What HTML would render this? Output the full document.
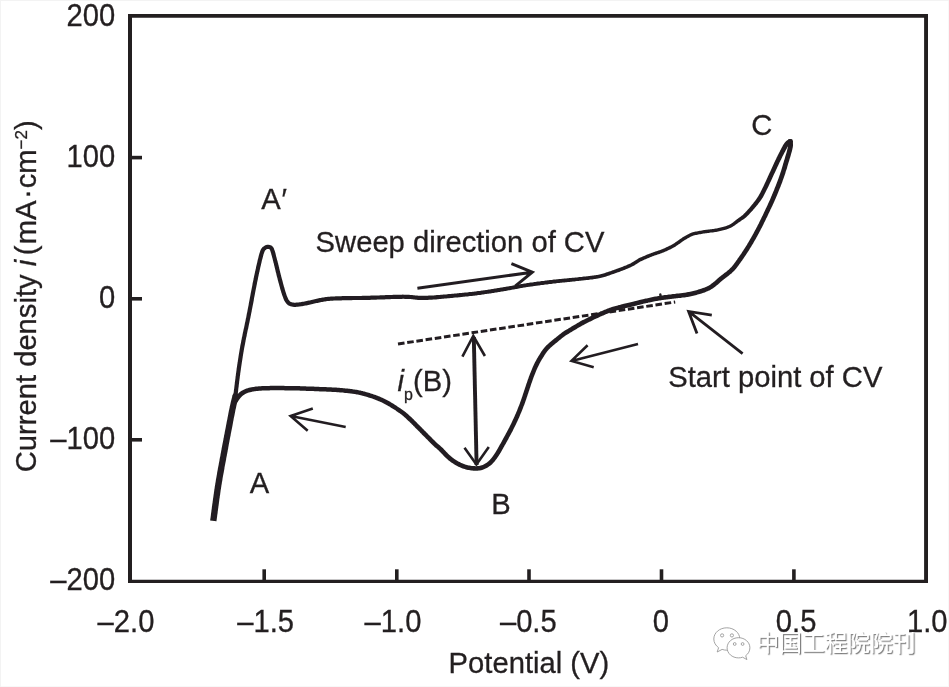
<!DOCTYPE html>
<html lang="en">
<head>
<meta charset="utf-8">
<title>Cyclic voltammogram</title>
<style>
html,body{margin:0;padding:0;background:#fff;}
body{width:949px;height:687px;overflow:hidden;}
svg{display:block;}
text{font-family:"Liberation Sans","Noto Sans CJK SC",sans-serif;font-size:29.2px;fill:#231f20;stroke:#231f20;stroke-width:0.3px;}
.it{font-family:"Liberation Sans",sans-serif;font-style:italic;}
.wm{font-family:"Liberation Sans","Noto Sans CJK SC",sans-serif;font-size:22.7px;stroke:none;}
</style>
</head>
<body>
<svg width="949" height="687" viewBox="0 0 949 687">
<rect x="0" y="0" width="949" height="687" fill="#f8f8f8"/>
<path d="M0 0H949V1H1V687H0Z" fill="#f3f3f3"/>
<rect x="1" y="1" width="947" height="685" fill="#ffffff"/>

<!-- frame -->
<path fill="#231f20" fill-rule="evenodd" d="M128 14.1H928V583H128Z M132 17.7V579.8H924.1V17.7Z"/>
<g fill="none" stroke="#231f20" stroke-width="3.6"><path d="M264.2 581 V569.3"/><path d="M396.8 581 V569.3"/><path d="M529.0 581 V569.3"/><path d="M661.5 581 V569.3"/><path d="M793.9 581 V569.3"/><path d="M130 157.6 H142"/><path d="M130 298.8 H142"/><path d="M130 439.8 H142"/></g>

<!-- y tick labels -->
<text transform="translate(115.3 25.7) scale(1 1.045)" text-anchor="end">200</text>
<text transform="translate(115.3 167.1) scale(1 1.045)" text-anchor="end">100</text>
<text transform="translate(115.3 307.5) scale(1 1.045)" text-anchor="end">0</text>
<text transform="translate(115.3 448.7) scale(1 1.045)" text-anchor="end">–100</text>
<text transform="translate(115.3 589.9) scale(1 1.045)" text-anchor="end">–200</text>
<!-- x tick labels -->
<text transform="translate(97.6 632.0) scale(1 1.045)">–2.0</text>
<text transform="translate(237.2 632.0) scale(1 1.045)">–1.5</text>
<text transform="translate(364.6 632.0) scale(1 1.045)">–1.0</text>
<text transform="translate(499.9 632.0) scale(1 1.045)">–0.5</text>
<text transform="translate(652.8 632.0) scale(1 1.045)">0</text>
<text transform="translate(775.8 632.0) scale(1 1.045)">0.5</text>
<text transform="translate(907 632.0) scale(1 1.045)">1.0</text>
<text transform="translate(448.6 672.8) scale(1 1.02)">Potential (V)</text>
<text transform="translate(36.3 472.3) rotate(-90) scale(1 1.02)">Current density <tspan class="it">i</tspan> <tspan dx="-3.5">(</tspan><tspan dx="1.2">m</tspan>A<tspan dx="1.5">·</tspan><tspan dx="0.8">c</tspan>m<tspan font-size="17" dy="-9.5">−2</tspan><tspan dy="9.5">)</tspan></text>

<!-- annotations -->
<text transform="translate(261.2 209.4) scale(1 1.02)">A<tspan dx="0.9">′</tspan></text>
<text transform="translate(249.8 493) scale(1 1.02)">A</text>
<text transform="translate(491.3 514) scale(1 1.02)">B</text>
<text transform="translate(751.3 135.2) scale(1 1.02)">C</text>
<text transform="translate(315.6 251.7) scale(1 1.02)">Sweep direction of CV</text>
<text transform="translate(668.2 386.8) scale(1 1.02)">Start point of CV</text>
<text transform="translate(397.6 390.8) scale(1 1.02)"><tspan class="it">i</tspan><tspan font-size="16" dy="8.6">p</tspan><tspan dy="-8.6">(B)</tspan></text>

<defs><filter id="soft" x="-5%" y="-5%" width="110%" height="110%"><feGaussianBlur stdDeviation="0.4"/></filter></defs>
<g filter="url(#soft)">
<!-- dashed baseline -->
<path d="M398 344 L675.2 302" fill="none" stroke="#231f20" stroke-width="3" stroke-dasharray="6.6 2.7"/>

<!-- CV curve -->
<g fill="#231f20" stroke="none">
<path d="M236.7 401.3 L236.8 400.8 L236.8 400.2 L237.0 399.5 L237.1 398.6 L237.3 397.5 L237.5 396.0 L237.7 394.3 L237.8 393.5 L237.9 392.8 L238.0 391.9 L238.1 391.0 L238.2 390.1 L238.3 389.1 L238.4 388.0 L238.6 387.0 L238.7 385.9 L238.8 384.8 L239.0 383.7 L239.1 382.5 L239.2 381.4 L239.4 380.3 L239.5 379.2 L239.7 378.1 L239.8 377.0 L239.9 376.0 L240.1 375.0 L240.2 374.1 L240.3 373.0 L240.5 371.9 L240.6 370.9 L240.8 369.9 L240.9 368.9 L241.0 367.9 L241.2 366.9 L241.3 365.9 L241.5 364.9 L241.6 363.9 L241.8 363.0 L241.9 362.0 L242.1 361.1 L242.2 360.1 L242.4 359.2 L242.5 358.2 L242.7 357.2 L242.8 356.2 L243.0 355.3 L243.1 354.3 L243.3 353.4 L243.4 352.6 L243.6 351.7 L243.7 350.8 L243.9 349.9 L244.0 349.0 L244.2 348.1 L244.4 347.1 L244.6 346.1 L244.8 345.0 L245.0 343.9 L245.2 342.7 L245.5 341.4 L245.6 340.6 L245.8 339.8 L245.9 339.0 L246.1 338.1 L246.3 337.3 L246.5 336.4 L246.7 335.5 L246.8 334.6 L247.0 333.7 L247.2 332.7 L247.4 331.8 L247.6 330.8 L247.8 329.8 L248.1 328.9 L248.3 327.8 L248.5 326.8 L248.7 325.8 L248.9 324.7 L249.1 323.7 L249.4 322.6 L249.6 321.5 L249.8 320.4 L250.0 319.3 L250.3 318.2 L250.5 317.1 L250.7 316.0 L251.0 314.8 L251.1 313.9 L251.3 313.0 L251.5 312.1 L251.7 311.2 L251.8 310.2 L252.0 309.3 L252.2 308.3 L252.4 307.3 L252.6 306.3 L252.8 305.3 L253.0 304.3 L253.2 303.3 L253.4 302.2 L253.6 301.2 L253.8 300.2 L253.9 299.1 L254.1 298.1 L254.3 297.0 L254.5 296.0 L254.7 294.9 L254.9 293.9 L255.1 292.8 L255.3 291.8 L255.5 290.8 L255.7 289.8 L255.9 288.8 L256.1 287.8 L256.3 286.8 L256.5 285.8 L256.7 284.8 L256.9 283.9 L257.0 283.0 L257.2 282.0 L257.4 281.2 L257.6 280.3 L257.8 279.4 L258.0 278.3 L258.2 277.1 L258.5 275.9 L258.7 274.8 L259.0 273.6 L259.2 272.5 L259.5 271.4 L259.7 270.3 L260.0 269.1 L260.2 268.1 L260.4 267.0 L260.7 265.9 L260.9 264.9 L261.1 263.9 L261.4 262.9 L261.6 262.0 L261.8 261.0 L262.0 260.1 L262.3 259.3 L262.5 258.4 L262.7 257.6 L262.9 256.9 L263.1 256.1 L263.3 255.4 L263.4 254.8 L263.6 254.2 L264.3 252.2 L264.8 251.0 L265.1 250.5 L265.3 250.3 L265.8 250.0 L266.2 249.6 L267.0 249.0 L267.5 248.9 L268.3 249.0 L269.1 249.0 L269.2 249.0 L270.0 250.0 L270.0 250.2 L270.3 250.8 L270.5 251.6 L270.8 252.4 L271.1 253.3 L271.3 254.2 L271.6 255.2 L271.9 256.3 L272.2 257.4 L272.5 258.6 L272.8 259.7 L273.1 260.9 L273.3 261.8 L273.5 262.7 L273.8 263.6 L274.0 264.6 L274.2 265.5 L274.5 266.5 L274.7 267.6 L275.0 268.6 L275.2 269.6 L275.5 270.7 L275.7 271.8 L276.0 272.8 L276.3 273.8 L276.5 274.9 L276.8 275.9 L277.0 276.9 L277.3 277.8 L277.6 278.9 L277.8 280.0 L278.1 281.1 L278.4 282.2 L278.7 283.3 L279.0 284.3 L279.3 285.4 L279.6 286.5 L279.9 287.5 L280.1 288.5 L280.4 289.5 L280.7 290.4 L281.0 291.3 L281.2 292.2 L281.5 293.0 L281.9 294.3 L282.3 295.5 L282.7 296.6 L283.1 297.6 L283.4 298.6 L283.8 299.5 L284.2 300.4 L284.7 301.2 L285.2 302.1 L286.0 303.3 L287.0 304.3 L288.0 305.2 L289.2 305.8 L290.4 306.3 L291.6 306.6 L292.8 306.8 L294.1 306.9 L295.4 306.9 L296.7 306.8 L298.1 306.7 L299.0 306.6 L300.0 306.5 L301.0 306.3 L302.0 306.2 L303.1 306.0 L304.2 305.8 L305.3 305.6 L306.3 305.4 L307.4 305.2 L308.4 305.0 L309.4 304.7 L310.5 304.5 L311.5 304.3 L312.5 304.0 L313.5 303.8 L314.5 303.5 L315.5 303.3 L316.5 303.1 L317.5 302.9 L318.5 302.7 L319.5 302.5 L320.5 302.3 L321.4 302.1 L322.3 301.9 L323.3 301.7 L324.2 301.6 L325.2 301.4 L326.2 301.2 L327.3 301.1 L328.5 301.0 L329.3 300.9 L330.2 300.8 L331.1 300.8 L332.0 300.7 L332.9 300.7 L333.8 300.6 L334.8 300.6 L335.8 300.5 L336.8 300.5 L337.9 300.5 L339.0 300.4 L340.1 300.4 L341.2 300.4 L342.4 300.3 L343.6 300.3 L344.5 300.3 L345.4 300.3 L346.4 300.2 L347.4 300.2 L348.4 300.2 L349.5 300.2 L350.6 300.2 L351.7 300.2 L352.8 300.1 L353.9 300.1 L355.0 300.1 L356.1 300.1 L357.2 300.1 L358.3 300.1 L359.3 300.1 L360.4 300.1 L361.5 300.1 L362.5 300.0 L363.5 300.0 L364.4 300.0 L365.6 300.0 L366.8 299.9 L367.9 299.9 L369.0 299.9 L370.0 299.9 L371.1 299.8 L372.1 299.8 L373.2 299.8 L374.2 299.7 L375.2 299.7 L376.2 299.7 L377.2 299.6 L378.3 299.6 L379.3 299.6 L380.3 299.5 L381.4 299.5 L382.4 299.5 L383.5 299.4 L384.6 299.4 L385.7 299.3 L386.8 299.3 L388.0 299.2 L389.1 299.2 L390.2 299.2 L391.2 299.1 L392.3 299.1 L393.4 299.0 L394.4 299.0 L395.4 299.0 L396.3 298.9 L397.3 298.9 L398.1 298.9 L399.5 298.9 L400.7 298.9 L401.8 298.9 L402.9 298.8 L403.9 298.8 L404.9 298.9 L405.8 298.9 L406.8 298.9 L407.8 298.9 L408.9 299.0 L409.8 299.1 L410.8 299.1 L411.8 299.2 L412.8 299.3 L413.8 299.5 L414.8 299.6 L415.8 299.7 L416.8 299.8 L417.9 299.9 L418.9 300.0 L420.0 300.0 L421.1 300.0 L422.3 300.0 L423.4 300.0 L424.5 300.0 L425.7 300.0 L426.8 299.9 L427.9 299.9 L429.0 299.8 L430.1 299.8 L431.1 299.7 L432.0 299.7 L433.2 299.6 L434.3 299.5 L435.3 299.4 L436.2 299.4 L437.2 299.3 L438.1 299.2 L439.1 299.0 L440.2 298.9 L441.1 298.9 L441.9 298.8 L442.7 298.7 L443.5 298.7 L444.4 298.6 L445.3 298.5 L446.4 298.4 L447.7 298.3 L449.1 298.2 L450.8 298.0 L451.5 297.9 L452.3 297.9 L453.2 297.8 L454.0 297.7 L454.9 297.6 L455.9 297.5 L456.8 297.4 L457.8 297.4 L458.8 297.3 L459.9 297.2 L461.0 297.1 L462.0 296.9 L463.1 296.8 L464.2 296.7 L465.3 296.6 L466.5 296.5 L467.6 296.4 L468.7 296.3 L469.8 296.1 L470.9 296.0 L472.0 295.9 L473.1 295.8 L474.2 295.7 L475.2 295.5 L476.3 295.4 L477.3 295.3 L478.3 295.1 L479.3 295.0 L480.3 294.9 L481.3 294.7 L482.4 294.6 L483.4 294.4 L484.4 294.3 L485.4 294.1 L486.4 294.0 L487.4 293.8 L488.5 293.7 L489.5 293.5 L490.5 293.4 L491.5 293.2 L492.5 293.0 L493.5 292.9 L494.5 292.7 L495.5 292.5 L496.6 292.4 L497.6 292.2 L498.6 292.1 L499.6 291.9 L500.6 291.7 L501.6 291.6 L502.6 291.4 L503.7 291.2 L504.7 291.1 L505.7 290.9 L506.7 290.7 L507.7 290.5 L508.7 290.3 L509.7 290.2 L510.8 290.0 L511.8 289.8 L512.8 289.6 L513.8 289.4 L514.8 289.2 L515.8 289.0 L516.8 288.9 L517.8 288.7 L518.8 288.5 L519.9 288.3 L520.9 288.1 L521.9 288.0 L522.9 287.8 L523.9 287.6 L524.9 287.5 L525.9 287.3 L526.9 287.1 L527.9 287.0 L528.9 286.8 L529.9 286.7 L530.9 286.5 L532.0 286.4 L533.0 286.2 L534.0 286.1 L535.0 286.0 L536.0 285.8 L537.0 285.7 L538.0 285.5 L539.1 285.4 L540.1 285.3 L541.1 285.1 L542.1 285.0 L543.1 284.9 L544.1 284.7 L545.1 284.6 L546.2 284.5 L547.2 284.4 L548.2 284.2 L549.2 284.1 L550.2 284.0 L551.2 283.9 L552.2 283.7 L553.2 283.6 L554.3 283.5 L555.3 283.4 L556.3 283.3 L557.3 283.1 L558.4 283.0 L559.4 282.9 L560.4 282.8 L561.5 282.7 L562.5 282.6 L563.6 282.5 L564.6 282.4 L565.6 282.3 L566.6 282.2 L567.7 282.1 L568.7 282.0 L569.7 281.9 L570.7 281.8 L571.7 281.7 L572.7 281.6 L573.6 281.5 L574.6 281.4 L575.5 281.2 L576.5 281.1 L577.4 281.0 L578.5 280.9 L579.7 280.8 L580.8 280.7 L581.9 280.6 L583.0 280.4 L584.1 280.3 L585.1 280.2 L586.2 280.1 L587.3 280.0 L588.3 279.9 L589.3 279.7 L590.3 279.6 L591.3 279.5 L592.3 279.4 L593.3 279.2 L594.2 279.1 L595.2 279.0 L596.1 278.8 L597.0 278.7 L597.8 278.5 L599.1 278.3 L600.3 278.0 L601.4 277.8 L602.4 277.5 L603.4 277.3 L604.3 277.0 L605.3 276.7 L606.2 276.4 L607.2 276.1 L608.1 275.8 L609.2 275.4 L610.3 275.0 L611.5 274.6 L612.3 274.3 L613.2 274.0 L614.1 273.7 L615.1 273.3 L616.1 273.0 L617.1 272.6 L618.1 272.2 L619.2 271.9 L620.2 271.5 L621.3 271.1 L622.3 270.7 L623.4 270.3 L624.4 269.9 L625.4 269.5 L626.4 269.1 L627.3 268.7 L628.3 268.3 L629.1 267.9 L630.0 267.6 L630.8 267.2 L632.0 266.6 L633.2 266.0 L634.3 265.4 L635.2 264.8 L636.1 264.3 L636.9 263.7 L637.7 263.2 L638.4 262.7 L639.2 262.2 L640.0 261.8 L640.9 261.3 L641.8 260.9 L642.7 260.4 L643.7 260.0 L644.6 259.6 L645.6 259.2 L646.6 258.7 L647.6 258.3 L648.6 257.9 L649.6 257.5 L650.6 257.1 L651.6 256.7 L652.5 256.3 L653.5 256.0 L654.5 255.6 L655.5 255.3 L656.5 254.9 L657.5 254.6 L658.5 254.2 L659.5 253.9 L660.5 253.5 L661.5 253.2 L662.5 252.8 L663.5 252.4 L664.5 252.0 L665.5 251.6 L666.5 251.2 L667.4 250.7 L668.3 250.3 L669.3 249.8 L670.2 249.4 L671.1 248.9 L672.0 248.4 L672.9 247.9 L673.8 247.4 L674.8 246.9 L675.7 246.4 L676.5 245.8 L677.4 245.2 L678.3 244.6 L679.2 244.0 L680.1 243.4 L680.9 242.8 L681.7 242.2 L682.6 241.6 L683.4 241.0 L684.1 240.5 L684.9 240.1 L685.9 239.5 L686.8 238.9 L687.7 238.3 L688.5 237.9 L689.3 237.4 L690.2 237.0 L691.0 236.6 L691.9 236.2 L692.9 235.8 L693.7 235.6 L694.6 235.3 L695.5 235.1 L696.4 234.9 L697.4 234.7 L698.3 234.5 L699.3 234.3 L700.4 234.2 L701.4 234.0 L702.5 233.8 L703.5 233.6 L704.6 233.5 L705.5 233.3 L706.5 233.2 L707.6 233.0 L708.6 232.9 L709.6 232.8 L710.7 232.6 L711.8 232.5 L712.9 232.4 L713.9 232.2 L715.0 232.1 L716.1 231.9 L717.1 231.7 L718.1 231.5 L719.2 231.3 L720.3 231.1 L721.3 230.8 L722.4 230.5 L723.4 230.3 L724.5 230.0 L725.5 229.7 L726.5 229.4 L727.5 229.0 L728.4 228.7 L729.4 228.3 L730.3 227.9 L731.3 227.4 L732.3 226.9 L733.3 226.3 L734.2 225.8 L735.0 225.2 L735.8 224.6 L736.6 224.0 L737.4 223.4 L738.2 222.8 L739.1 222.3 L739.9 221.7 L740.7 221.2 L741.5 220.6 L742.3 220.1 L743.2 219.5 L744.0 218.9 L744.9 218.2 L745.9 217.4 L746.9 216.5 L747.9 215.5 L748.5 214.9 L749.2 214.2 L749.8 213.5 L750.5 212.8 L751.2 212.0 L752.0 211.2 L752.7 210.4 L753.4 209.5 L754.2 208.7 L754.9 207.8 L755.7 207.0 L756.4 206.1 L757.1 205.3 L757.8 204.4 L758.4 203.6 L759.0 202.8 L759.6 202.0 L760.2 201.3 L760.9 200.2 L761.6 199.2 L762.2 198.3 L762.8 197.4 L763.3 196.5 L763.8 195.6 L764.2 194.7 L764.7 193.8 L765.1 192.9 L765.6 192.0 L766.1 190.9 L766.7 189.8 L767.1 189.0 L767.5 188.2 L768.0 187.3 L768.4 186.4 L768.8 185.5 L769.3 184.5 L769.7 183.6 L770.2 182.6 L770.6 181.7 L771.1 180.7 L771.5 179.7 L772.0 178.7 L772.4 177.7 L772.9 176.7 L773.3 175.7 L773.8 174.8 L774.2 173.8 L774.7 172.9 L775.1 171.9 L775.6 171.0 L776.0 170.0 L776.5 169.0 L777.0 168.0 L777.4 167.0 L777.9 166.0 L778.4 165.0 L778.8 164.1 L779.3 163.1 L779.7 162.1 L780.2 161.2 L780.6 160.3 L781.1 159.4 L781.5 158.5 L781.9 157.7 L782.3 156.8 L782.7 156.1 L783.3 154.9 L783.9 153.8 L784.4 152.7 L785.0 151.7 L785.5 150.7 L786.0 149.7 L786.5 148.9 L787.0 148.0 L787.4 147.2 L787.9 146.6 L788.3 145.9 L788.5 145.5 L789.5 144.5 L790.1 144.1 L790.7 143.9 L791.3 143.6 L789.3 139.2 L788.7 139.4 L787.7 139.9 L786.2 140.9 L784.9 142.5 L784.3 143.3 L783.8 144.0 L783.3 144.8 L782.9 145.6 L782.4 146.5 L781.8 147.5 L781.3 148.5 L780.8 149.5 L780.2 150.6 L779.7 151.7 L779.1 152.8 L778.5 153.9 L778.1 154.7 L777.7 155.6 L777.3 156.5 L776.8 157.3 L776.4 158.3 L776.0 159.2 L775.5 160.1 L775.1 161.1 L774.6 162.1 L774.1 163.1 L773.7 164.1 L773.2 165.1 L772.8 166.1 L772.3 167.1 L771.9 168.0 L771.4 169.0 L771.0 170.0 L770.5 170.9 L770.1 171.9 L769.6 172.8 L769.2 173.8 L768.7 174.8 L768.3 175.8 L767.8 176.8 L767.4 177.8 L766.9 178.8 L766.5 179.8 L766.0 180.7 L765.6 181.7 L765.2 182.6 L764.7 183.6 L764.3 184.5 L763.9 185.3 L763.5 186.2 L763.1 187.0 L762.7 187.8 L762.1 188.9 L761.6 190.0 L761.1 190.9 L760.7 191.8 L760.3 192.7 L759.8 193.5 L759.4 194.3 L758.9 195.1 L758.5 196.0 L757.9 196.8 L757.3 197.7 L756.6 198.7 L756.1 199.4 L755.6 200.2 L755.0 200.9 L754.4 201.7 L753.7 202.6 L753.1 203.4 L752.4 204.3 L751.7 205.1 L751.0 206.0 L750.3 206.8 L749.6 207.7 L748.9 208.5 L748.2 209.3 L747.5 210.0 L746.9 210.8 L746.2 211.5 L745.6 212.1 L745.1 212.7 L744.1 213.6 L743.3 214.5 L742.5 215.2 L741.7 215.8 L740.9 216.4 L740.1 217.0 L739.4 217.6 L738.6 218.1 L737.8 218.7 L736.9 219.3 L736.1 220.0 L735.3 220.6 L734.5 221.2 L733.8 221.8 L733.0 222.4 L732.2 222.9 L731.5 223.5 L730.7 224.0 L729.8 224.4 L728.9 224.9 L728.1 225.2 L727.3 225.6 L726.4 225.9 L725.5 226.2 L724.5 226.5 L723.6 226.8 L722.6 227.1 L721.6 227.3 L720.6 227.6 L719.5 227.8 L718.5 228.0 L717.5 228.3 L716.5 228.5 L715.5 228.6 L714.5 228.8 L713.5 228.9 L712.4 229.1 L711.4 229.2 L710.3 229.3 L709.3 229.4 L708.2 229.6 L707.1 229.7 L706.1 229.8 L705.0 230.0 L704.0 230.1 L703.0 230.3 L701.9 230.5 L700.9 230.7 L699.8 230.8 L698.8 231.0 L697.7 231.2 L696.7 231.4 L695.7 231.6 L694.7 231.8 L693.7 232.0 L692.8 232.3 L691.9 232.6 L690.7 233.0 L689.6 233.4 L688.7 233.9 L687.7 234.4 L686.8 234.9 L685.9 235.4 L685.0 236.0 L684.1 236.5 L683.1 237.1 L682.3 237.6 L681.5 238.2 L680.6 238.8 L679.8 239.3 L678.9 239.9 L678.1 240.6 L677.2 241.2 L676.3 241.8 L675.5 242.3 L674.7 242.9 L673.8 243.4 L673.0 243.9 L672.1 244.4 L671.3 244.9 L670.4 245.4 L669.5 245.8 L668.6 246.3 L667.8 246.7 L666.9 247.1 L666.0 247.5 L665.0 248.0 L664.1 248.4 L663.1 248.8 L662.2 249.2 L661.3 249.5 L660.4 249.9 L659.4 250.2 L658.4 250.5 L657.4 250.9 L656.4 251.2 L655.4 251.6 L654.3 251.9 L653.3 252.3 L652.3 252.7 L651.3 253.1 L650.3 253.4 L649.3 253.8 L648.2 254.2 L647.2 254.6 L646.2 255.0 L645.2 255.5 L644.2 255.9 L643.2 256.3 L642.2 256.7 L641.2 257.2 L640.3 257.6 L639.3 258.1 L638.3 258.6 L637.4 259.2 L636.5 259.7 L635.7 260.2 L634.9 260.8 L634.1 261.3 L633.3 261.8 L632.4 262.3 L631.5 262.8 L630.5 263.4 L629.2 264.0 L628.5 264.3 L627.7 264.6 L626.9 265.0 L626.0 265.4 L625.0 265.7 L624.1 266.1 L623.1 266.5 L622.1 266.9 L621.1 267.3 L620.0 267.7 L619.0 268.1 L617.9 268.5 L616.9 268.8 L615.9 269.2 L614.9 269.6 L613.9 269.9 L612.9 270.3 L612.0 270.6 L611.1 270.9 L610.3 271.2 L609.1 271.6 L608.0 272.0 L607.0 272.3 L606.0 272.6 L605.1 272.9 L604.2 273.2 L603.3 273.5 L602.4 273.7 L601.5 274.0 L600.5 274.2 L599.5 274.4 L598.4 274.7 L597.2 274.9 L596.3 275.0 L595.5 275.2 L594.6 275.3 L593.7 275.5 L592.8 275.6 L591.8 275.7 L590.9 275.8 L589.9 276.0 L588.9 276.1 L587.9 276.2 L586.9 276.3 L585.8 276.4 L584.7 276.5 L583.7 276.6 L582.6 276.8 L581.5 276.9 L580.4 277.0 L579.3 277.1 L578.1 277.2 L577.0 277.4 L576.1 277.5 L575.2 277.6 L574.2 277.7 L573.3 277.7 L572.3 277.8 L571.3 277.9 L570.3 278.0 L569.3 278.1 L568.3 278.2 L567.3 278.3 L566.3 278.4 L565.3 278.5 L564.2 278.6 L563.2 278.7 L562.1 278.8 L561.1 278.9 L560.1 279.0 L559.0 279.1 L558.0 279.2 L556.9 279.3 L555.9 279.4 L554.9 279.5 L553.8 279.6 L552.8 279.7 L551.8 279.9 L550.8 280.0 L549.7 280.1 L548.7 280.2 L547.7 280.3 L546.7 280.5 L545.7 280.6 L544.7 280.7 L543.6 280.9 L542.6 281.0 L541.6 281.1 L540.6 281.2 L539.6 281.4 L538.5 281.5 L537.5 281.6 L536.5 281.8 L535.5 281.9 L534.5 282.1 L533.4 282.2 L532.4 282.4 L531.4 282.5 L530.4 282.6 L529.4 282.8 L528.3 282.9 L527.3 283.1 L526.3 283.3 L525.3 283.4 L524.3 283.6 L523.2 283.7 L522.2 283.9 L521.2 284.1 L520.2 284.3 L519.2 284.4 L518.2 284.6 L517.1 284.8 L516.1 285.0 L515.1 285.2 L514.1 285.3 L513.1 285.5 L512.1 285.7 L511.1 285.9 L510.1 286.1 L509.0 286.2 L508.0 286.4 L507.0 286.6 L506.0 286.8 L505.0 287.0 L504.0 287.1 L503.0 287.3 L502.0 287.5 L501.0 287.6 L500.0 287.8 L499.0 288.0 L497.9 288.1 L496.9 288.3 L495.9 288.4 L494.9 288.6 L493.9 288.8 L492.9 288.9 L491.9 289.1 L490.9 289.2 L489.9 289.4 L488.9 289.6 L487.8 289.7 L486.8 289.9 L485.8 290.0 L484.8 290.2 L483.8 290.3 L482.8 290.5 L481.8 290.6 L480.8 290.7 L479.8 290.9 L478.8 291.0 L477.8 291.1 L476.8 291.3 L475.7 291.4 L474.7 291.5 L473.7 291.7 L472.6 291.8 L471.6 291.9 L470.5 292.0 L469.4 292.1 L468.3 292.3 L467.2 292.4 L466.0 292.5 L464.9 292.6 L463.8 292.7 L462.7 292.8 L461.6 292.9 L460.6 293.0 L459.5 293.1 L458.5 293.2 L457.4 293.3 L456.5 293.4 L455.5 293.5 L454.5 293.6 L453.6 293.7 L452.8 293.8 L451.9 293.8 L451.1 293.9 L450.4 294.0 L448.7 294.1 L447.3 294.3 L446.1 294.4 L445.0 294.5 L444.1 294.5 L443.2 294.6 L442.4 294.7 L441.6 294.7 L440.7 294.8 L439.8 294.9 L438.7 295.0 L437.7 295.0 L436.7 295.1 L435.8 295.2 L434.9 295.3 L434.0 295.4 L432.9 295.4 L431.8 295.5 L430.9 295.5 L429.9 295.6 L428.8 295.6 L427.8 295.7 L426.7 295.7 L425.6 295.8 L424.4 295.8 L423.3 295.8 L422.3 295.8 L421.2 295.8 L420.2 295.8 L419.2 295.8 L418.2 295.7 L417.2 295.6 L416.2 295.5 L415.2 295.4 L414.2 295.3 L413.2 295.2 L412.2 295.1 L411.2 295.0 L410.2 294.9 L409.1 294.8 L408.0 294.8 L407.0 294.7 L406.0 294.7 L404.9 294.7 L403.9 294.7 L402.9 294.6 L401.8 294.7 L400.6 294.7 L399.4 294.7 L398.1 294.7 L397.2 294.7 L396.2 294.7 L395.3 294.8 L394.2 294.8 L393.2 294.8 L392.2 294.9 L391.1 294.9 L390.0 295.0 L388.9 295.0 L387.8 295.1 L386.7 295.1 L385.6 295.1 L384.5 295.2 L383.4 295.2 L382.3 295.3 L381.2 295.3 L380.2 295.3 L379.1 295.4 L378.1 295.4 L377.1 295.4 L376.1 295.5 L375.1 295.5 L374.1 295.5 L373.0 295.6 L372.0 295.6 L371.0 295.6 L369.9 295.7 L368.9 295.7 L367.8 295.7 L366.7 295.7 L365.5 295.8 L364.4 295.8 L363.4 295.8 L362.4 295.8 L361.4 295.9 L360.4 295.9 L359.3 295.9 L358.2 295.9 L357.1 295.9 L356.0 295.9 L354.9 295.9 L353.8 295.9 L352.7 295.9 L351.6 296.0 L350.5 296.0 L349.4 296.0 L348.4 296.0 L347.3 296.0 L346.3 296.0 L345.3 296.1 L344.4 296.1 L343.4 296.1 L342.3 296.1 L341.1 296.2 L340.0 296.2 L338.8 296.2 L337.8 296.3 L336.7 296.3 L335.7 296.3 L334.6 296.4 L333.6 296.4 L332.7 296.5 L331.7 296.5 L330.8 296.6 L329.9 296.7 L329.0 296.7 L328.1 296.8 L326.8 296.9 L325.7 297.1 L324.6 297.2 L323.5 297.4 L322.5 297.6 L321.5 297.8 L320.6 298.0 L319.6 298.1 L318.7 298.3 L317.7 298.5 L316.6 298.8 L315.6 299.0 L314.6 299.2 L313.6 299.5 L312.5 299.7 L311.5 300.0 L310.5 300.2 L309.6 300.4 L308.6 300.6 L307.6 300.8 L306.6 301.0 L305.5 301.2 L304.5 301.5 L303.4 301.7 L302.4 301.8 L301.4 302.0 L300.4 302.2 L299.4 302.3 L298.5 302.4 L297.7 302.5 L296.4 302.6 L295.2 302.7 L294.2 302.7 L293.3 302.6 L292.5 302.5 L291.8 302.3 L291.0 302.0 L290.4 301.7 L289.8 301.2 L289.3 300.6 L288.6 299.7 L288.3 299.2 L288.0 298.6 L287.7 297.8 L287.3 297.1 L287.0 296.2 L286.6 295.2 L286.3 294.2 L285.9 293.0 L285.5 291.8 L285.2 291.0 L285.0 290.1 L284.7 289.2 L284.5 288.3 L284.2 287.3 L283.9 286.4 L283.6 285.3 L283.3 284.3 L283.0 283.2 L282.8 282.2 L282.5 281.1 L282.2 280.0 L281.9 278.9 L281.6 277.8 L281.3 276.8 L281.1 275.8 L280.8 274.8 L280.6 273.8 L280.3 272.8 L280.1 271.8 L279.8 270.8 L279.6 269.7 L279.3 268.7 L279.1 267.6 L278.8 266.6 L278.6 265.5 L278.3 264.5 L278.1 263.5 L277.8 262.6 L277.6 261.6 L277.4 260.7 L277.1 259.9 L276.8 258.7 L276.5 257.5 L276.2 256.4 L275.9 255.3 L275.7 254.2 L275.4 253.1 L275.1 252.1 L274.8 251.1 L274.5 250.2 L274.2 249.4 L273.9 248.6 L273.4 247.6 L271.9 245.7 L269.9 244.9 L268.5 244.8 L267.1 244.8 L265.3 245.2 L263.8 246.2 L263.2 246.7 L262.6 247.1 L261.8 247.9 L261.1 249.1 L260.3 250.7 L259.6 253.0 L259.4 253.6 L259.2 254.3 L259.0 255.0 L258.8 255.8 L258.6 256.6 L258.4 257.4 L258.2 258.2 L258.0 259.1 L257.7 260.1 L257.5 261.0 L257.3 262.0 L257.1 263.0 L256.8 264.0 L256.6 265.0 L256.3 266.1 L256.1 267.1 L255.9 268.2 L255.6 269.4 L255.4 270.5 L255.1 271.6 L254.9 272.8 L254.6 273.9 L254.4 275.1 L254.1 276.2 L253.9 277.4 L253.6 278.6 L253.5 279.4 L253.3 280.3 L253.1 281.2 L252.9 282.1 L252.7 283.1 L252.5 284.0 L252.4 285.0 L252.2 286.0 L252.0 287.0 L251.8 288.0 L251.6 289.0 L251.4 290.0 L251.2 291.0 L251.0 292.1 L250.8 293.1 L250.6 294.1 L250.4 295.2 L250.2 296.2 L250.0 297.3 L249.8 298.3 L249.6 299.4 L249.4 300.4 L249.2 301.5 L249.0 302.5 L248.8 303.5 L248.7 304.5 L248.5 305.5 L248.3 306.5 L248.1 307.5 L247.9 308.5 L247.7 309.5 L247.5 310.4 L247.4 311.3 L247.2 312.2 L247.0 313.1 L246.8 314.0 L246.6 315.1 L246.4 316.3 L246.2 317.4 L245.9 318.5 L245.7 319.6 L245.5 320.7 L245.3 321.8 L245.0 322.8 L244.8 323.9 L244.6 324.9 L244.4 326.0 L244.2 327.0 L244.0 328.0 L243.7 329.0 L243.5 330.0 L243.3 330.9 L243.1 331.9 L242.9 332.8 L242.7 333.7 L242.5 334.7 L242.4 335.6 L242.2 336.4 L242.0 337.3 L241.8 338.1 L241.7 339.0 L241.5 339.8 L241.3 340.6 L241.1 341.9 L240.9 343.1 L240.6 344.2 L240.4 345.3 L240.2 346.3 L240.1 347.3 L239.9 348.3 L239.7 349.2 L239.6 350.1 L239.4 351.0 L239.3 351.9 L239.1 352.8 L239.0 353.7 L238.8 354.6 L238.7 355.6 L238.5 356.6 L238.4 357.5 L238.2 358.5 L238.1 359.5 L237.9 360.4 L237.8 361.4 L237.6 362.3 L237.5 363.3 L237.3 364.3 L237.2 365.3 L237.0 366.3 L236.9 367.3 L236.7 368.3 L236.6 369.3 L236.5 370.3 L236.3 371.4 L236.2 372.4 L236.0 373.5 L235.9 374.5 L235.8 375.5 L235.6 376.5 L235.5 377.6 L235.4 378.7 L235.2 379.8 L235.1 380.9 L234.9 382.0 L234.8 383.1 L234.7 384.3 L234.5 385.4 L234.4 386.5 L234.3 387.5 L234.2 388.6 L234.0 389.5 L233.9 390.5 L233.8 391.4 L233.7 392.2 L233.6 393.0 L233.5 393.7 L233.3 395.5 L233.1 396.9 L232.9 398.0 L232.8 398.9 L232.7 399.6 L232.6 400.2 L232.5 400.7Z"/><circle cx="234.6" cy="401.0" r="2.10"/><circle cx="790.3" cy="141.4" r="2.45"/>
<path d="M787.9 141.6 L787.9 142.4 L788.1 143.2 L788.2 144.1 L788.1 145.2 L787.9 146.9 L787.8 147.5 L787.6 148.3 L787.4 149.1 L787.2 150.0 L786.9 151.0 L786.7 151.9 L786.4 153.0 L786.1 154.0 L785.8 155.1 L785.4 156.2 L785.1 157.3 L784.8 158.4 L784.5 159.5 L784.1 160.6 L783.8 161.7 L783.5 162.7 L783.2 163.6 L783.0 164.6 L782.7 165.5 L782.4 166.5 L782.1 167.5 L781.8 168.4 L781.5 169.4 L781.2 170.4 L780.9 171.4 L780.5 172.4 L780.2 173.4 L779.9 174.4 L779.5 175.4 L779.2 176.4 L778.8 177.5 L778.5 178.5 L778.1 179.4 L777.8 180.3 L777.5 181.2 L777.1 182.1 L776.8 183.1 L776.4 184.0 L776.0 184.9 L775.7 185.9 L775.3 186.8 L774.9 187.8 L774.5 188.8 L774.2 189.7 L773.8 190.7 L773.4 191.6 L773.0 192.5 L772.6 193.4 L772.2 194.3 L771.9 195.2 L771.5 196.1 L771.1 197.0 L770.7 198.0 L770.3 198.9 L769.9 199.9 L769.5 200.8 L769.0 201.8 L768.6 202.7 L768.2 203.6 L767.8 204.5 L767.4 205.4 L767.0 206.3 L766.6 207.2 L766.1 208.0 L765.7 208.9 L765.3 209.8 L764.9 210.7 L764.5 211.6 L764.0 212.5 L763.6 213.5 L763.1 214.4 L762.7 215.4 L762.2 216.3 L761.7 217.3 L761.3 218.2 L760.8 219.2 L760.4 220.1 L759.9 221.1 L759.4 222.0 L759.0 222.9 L758.5 223.9 L758.0 224.8 L757.5 225.7 L757.1 226.7 L756.6 227.6 L756.1 228.5 L755.6 229.4 L755.1 230.3 L754.6 231.2 L754.2 232.1 L753.7 233.0 L753.2 233.9 L752.7 234.8 L752.2 235.7 L751.7 236.6 L751.2 237.5 L750.6 238.4 L750.1 239.3 L749.6 240.2 L749.1 241.0 L748.6 241.9 L748.1 242.7 L747.6 243.6 L747.1 244.5 L746.5 245.4 L746.0 246.2 L745.5 247.1 L744.9 247.9 L744.4 248.8 L743.9 249.6 L743.3 250.4 L742.8 251.3 L742.2 252.1 L741.7 252.9 L741.2 253.7 L740.6 254.5 L740.1 255.3 L739.5 256.1 L738.9 256.9 L738.3 257.8 L737.7 258.6 L737.2 259.5 L736.6 260.3 L736.0 261.1 L735.4 261.9 L734.8 262.7 L734.2 263.5 L733.7 264.3 L733.1 265.0 L732.5 265.8 L731.9 266.5 L731.3 267.2 L730.6 267.8 L729.9 268.5 L729.2 269.2 L728.4 269.9 L727.6 270.6 L726.9 271.2 L726.0 271.9 L725.2 272.5 L724.4 273.1 L723.6 273.8 L722.7 274.4 L721.9 275.1 L721.0 275.7 L720.1 276.4 L719.3 277.1 L718.5 277.8 L717.6 278.5 L716.8 279.3 L716.0 280.0 L715.2 280.7 L714.4 281.4 L713.6 282.0 L712.8 282.7 L712.0 283.3 L711.3 283.8 L710.5 284.4 L709.8 284.9 L708.9 285.4 L708.1 285.9 L707.3 286.3 L706.5 286.7 L705.7 287.0 L704.8 287.4 L704.0 287.7 L703.1 288.0 L702.2 288.3 L701.2 288.7 L700.2 289.0 L699.3 289.3 L698.3 289.6 L697.4 289.9 L696.4 290.2 L695.4 290.4 L694.3 290.7 L693.3 291.0 L692.2 291.2 L691.2 291.5 L690.1 291.7 L689.0 291.9 L688.0 292.1 L687.0 292.3 L686.0 292.5 L685.0 292.7 L684.0 292.8 L683.0 293.0 L682.0 293.1 L681.0 293.2 L680.0 293.3 L679.0 293.4 L677.9 293.5 L676.9 293.6 L675.8 293.8 L674.7 293.9 L673.6 294.0 L672.7 294.1 L671.7 294.3 L670.7 294.4 L669.7 294.5 L668.7 294.6 L667.7 294.7 L666.6 294.9 L665.6 295.0 L664.6 295.1 L663.5 295.3 L662.5 295.4 L661.4 295.5 L660.4 295.7 L659.4 295.9 L658.3 296.0 L657.3 296.2 L656.2 296.4 L655.1 296.6 L654.0 296.8 L652.9 297.0 L651.8 297.3 L650.7 297.5 L649.7 297.7 L648.6 297.9 L647.6 298.2 L646.6 298.4 L645.6 298.6 L644.7 298.8 L643.8 299.0 L643.0 299.2 L641.6 299.5 L640.5 299.7 L639.5 300.0 L638.6 300.2 L637.7 300.4 L636.8 300.7 L635.8 301.0 L634.5 301.3 L633.7 301.5 L632.7 301.7 L631.7 302.0 L630.7 302.2 L629.6 302.5 L628.5 302.7 L627.4 303.0 L626.2 303.3 L625.1 303.5 L624.0 303.8 L623.0 304.1 L622.0 304.3 L621.0 304.6 L619.9 304.9 L618.8 305.1 L617.8 305.4 L616.7 305.7 L615.7 305.9 L614.8 306.2 L613.8 306.5 L612.8 306.8 L611.8 307.1 L610.8 307.4 L609.7 307.8 L608.7 308.2 L607.6 308.6 L606.6 309.0 L605.6 309.4 L604.5 309.8 L603.5 310.3 L602.5 310.7 L601.5 311.2 L600.5 311.6 L599.6 312.0 L598.6 312.4 L597.7 312.8 L596.8 313.3 L595.8 313.7 L594.9 314.1 L594.0 314.6 L593.1 315.0 L592.1 315.4 L591.2 315.9 L590.3 316.3 L589.4 316.8 L588.4 317.3 L587.5 317.7 L586.5 318.2 L585.5 318.7 L584.6 319.2 L583.6 319.7 L582.7 320.1 L581.8 320.6 L580.9 321.1 L580.0 321.6 L579.0 322.2 L578.0 322.7 L577.0 323.3 L576.1 323.9 L575.1 324.4 L574.2 325.0 L573.3 325.5 L572.4 326.1 L571.5 326.6 L570.6 327.2 L569.6 327.7 L568.7 328.3 L567.7 328.9 L566.7 329.4 L565.8 330.0 L564.8 330.6 L563.9 331.2 L563.0 331.8 L562.0 332.5 L561.1 333.2 L560.2 333.9 L559.4 334.5 L558.5 335.2 L557.7 335.9 L556.9 336.5 L556.1 337.2 L555.2 337.9 L554.3 338.6 L553.5 339.3 L552.6 340.0 L551.7 340.7 L550.9 341.4 L550.1 342.1 L549.3 342.8 L548.5 343.5 L547.7 344.2 L546.9 344.9 L546.2 345.6 L545.4 346.4 L544.7 347.2 L543.9 348.2 L543.3 349.0 L542.7 349.8 L542.0 350.7 L541.4 351.6 L540.8 352.5 L540.2 353.5 L539.6 354.4 L539.0 355.4 L538.4 356.3 L537.9 357.2 L537.4 358.1 L536.8 359.0 L536.3 359.9 L535.8 360.9 L535.3 361.8 L534.8 362.8 L534.2 363.9 L533.7 365.0 L533.3 365.9 L532.9 366.8 L532.5 367.8 L532.1 368.7 L531.7 369.7 L531.3 370.7 L530.9 371.7 L530.5 372.8 L530.0 373.8 L529.6 374.9 L529.2 375.9 L528.8 377.0 L528.5 377.9 L528.2 378.9 L527.8 379.8 L527.5 380.8 L527.2 381.7 L526.9 382.7 L526.5 383.6 L526.2 384.6 L525.9 385.6 L525.6 386.6 L525.2 387.6 L524.9 388.6 L524.6 389.6 L524.2 390.6 L523.9 391.5 L523.6 392.5 L523.2 393.4 L522.9 394.4 L522.6 395.4 L522.3 396.4 L521.9 397.4 L521.6 398.4 L521.2 399.4 L520.9 400.4 L520.6 401.3 L520.2 402.3 L519.9 403.3 L519.5 404.2 L519.2 405.2 L518.8 406.1 L518.4 407.1 L518.0 408.0 L517.6 409.0 L517.3 409.9 L516.9 410.9 L516.5 411.8 L516.1 412.8 L515.7 413.7 L515.3 414.6 L514.9 415.6 L514.5 416.5 L514.1 417.3 L513.7 418.2 L513.3 419.0 L512.8 420.1 L512.4 421.0 L511.9 422.0 L511.5 422.9 L511.1 423.8 L510.6 424.7 L510.2 425.6 L509.7 426.4 L509.3 427.4 L508.8 428.3 L508.3 429.2 L507.8 430.2 L507.3 431.1 L506.9 431.9 L506.4 432.8 L506.0 433.6 L505.5 434.5 L505.0 435.4 L504.5 436.3 L504.0 437.2 L503.5 438.1 L503.0 439.0 L502.5 439.9 L502.0 440.8 L501.6 441.7 L501.1 442.5 L500.6 443.4 L500.1 444.3 L499.5 445.3 L499.0 446.3 L498.4 447.3 L497.9 448.2 L497.3 449.2 L496.8 450.1 L496.3 451.0 L495.7 451.9 L495.2 452.7 L494.7 453.5 L494.2 454.3 L493.7 455.0 L493.0 456.0 L492.3 456.9 L491.7 457.8 L491.1 458.6 L490.4 459.3 L489.8 460.0 L489.2 460.6 L488.5 461.2 L487.8 461.8 L487.0 462.4 L486.2 462.9 L485.3 463.5 L484.5 464.0 L483.6 464.4 L482.7 464.9 L481.8 465.2 L480.9 465.5 L480.0 465.8 L479.2 465.9 L478.3 466.0 L477.4 466.1 L476.5 466.2 L475.6 466.2 L474.6 466.1 L473.7 466.1 L472.7 466.0 L471.7 465.9 L470.7 465.7 L469.8 465.6 L468.8 465.4 L467.9 465.2 L466.9 465.0 L466.0 464.7 L465.1 464.4 L464.1 464.1 L463.2 463.7 L462.2 463.3 L461.3 462.9 L460.5 462.5 L459.7 462.1 L458.8 461.7 L458.0 461.3 L457.2 460.8 L456.4 460.3 L455.6 459.8 L454.8 459.2 L454.0 458.7 L453.2 458.1 L452.4 457.5 L451.6 456.8 L450.9 456.2 L450.2 455.6 L449.4 454.9 L448.7 454.2 L447.9 453.4 L447.1 452.6 L446.4 451.9 L445.6 451.1 L444.9 450.3 L444.1 449.5 L443.5 448.8 L442.8 448.1 L442.2 447.5 L441.6 446.9 L440.5 446.0 L439.8 445.3 L439.3 444.9 L438.8 444.6 L438.1 444.0 L437.0 442.9 L436.5 442.4 L435.9 441.9 L435.3 441.3 L434.6 440.6 L433.9 439.9 L433.2 439.2 L432.4 438.4 L431.6 437.6 L430.8 436.8 L430.0 436.0 L429.2 435.2 L428.4 434.4 L427.6 433.5 L426.8 432.7 L426.0 431.9 L425.2 431.1 L424.4 430.4 L423.7 429.6 L422.9 428.9 L422.2 428.1 L421.4 427.3 L420.6 426.5 L419.9 425.7 L419.1 425.0 L418.3 424.2 L417.5 423.4 L416.8 422.6 L416.0 421.9 L415.3 421.1 L414.5 420.4 L413.8 419.6 L413.1 418.9 L412.4 418.3 L411.7 417.6 L410.8 416.8 L410.0 416.1 L409.3 415.4 L408.6 414.8 L407.9 414.1 L407.2 413.5 L406.5 412.9 L405.8 412.3 L405.0 411.7 L404.2 411.0 L403.3 410.4 L402.3 409.7 L401.3 408.9 L400.6 408.5 L399.8 408.0 L399.0 407.4 L398.2 406.9 L397.4 406.4 L396.6 405.8 L395.7 405.2 L394.8 404.7 L393.9 404.1 L393.0 403.5 L392.1 403.0 L391.1 402.4 L390.2 401.8 L389.2 401.3 L388.2 400.8 L387.3 400.2 L386.3 399.7 L385.3 399.2 L384.3 398.7 L383.3 398.3 L382.4 397.8 L381.5 397.4 L380.5 397.0 L379.6 396.6 L378.6 396.2 L377.6 395.8 L376.7 395.5 L375.7 395.1 L374.7 394.7 L373.7 394.4 L372.7 394.0 L371.7 393.7 L370.7 393.4 L369.7 393.1 L368.7 392.8 L367.7 392.5 L366.7 392.2 L365.7 391.9 L364.7 391.6 L363.7 391.4 L362.7 391.1 L361.7 390.9 L360.7 390.6 L359.7 390.4 L358.7 390.2 L357.7 390.0 L356.7 389.8 L355.7 389.7 L354.7 389.5 L353.7 389.4 L352.7 389.2 L351.7 389.1 L350.7 389.0 L349.6 388.8 L348.6 388.7 L347.6 388.6 L346.5 388.5 L345.4 388.4 L344.4 388.3 L343.2 388.2 L342.1 388.1 L341.2 388.0 L340.2 387.9 L339.3 387.8 L338.3 387.7 L337.3 387.7 L336.3 387.6 L335.3 387.6 L334.3 387.5 L333.3 387.4 L332.3 387.4 L331.2 387.3 L330.2 387.3 L329.1 387.2 L328.1 387.2 L327.1 387.2 L326.0 387.1 L325.0 387.1 L323.9 387.0 L322.9 387.0 L321.8 387.0 L320.8 386.9 L319.8 386.9 L318.7 386.8 L317.7 386.8 L316.7 386.8 L315.7 386.7 L314.7 386.7 L313.7 386.6 L312.6 386.6 L311.6 386.5 L310.6 386.5 L309.6 386.5 L308.6 386.4 L307.6 386.4 L306.6 386.4 L305.6 386.3 L304.5 386.3 L303.5 386.3 L302.5 386.2 L301.5 386.2 L300.5 386.2 L299.5 386.1 L298.5 386.1 L297.4 386.1 L296.4 386.1 L295.4 386.0 L294.4 386.0 L293.4 386.0 L292.4 386.0 L291.3 386.0 L290.3 385.9 L289.3 385.9 L288.2 385.9 L287.2 385.9 L286.1 385.9 L285.0 385.9 L283.9 385.8 L282.8 385.8 L281.8 385.8 L280.7 385.8 L279.6 385.8 L278.5 385.8 L277.4 385.8 L276.4 385.8 L275.3 385.8 L274.3 385.8 L273.3 385.8 L272.2 385.8 L271.3 385.8 L270.3 385.8 L269.3 385.9 L268.4 385.9 L267.5 385.9 L266.7 385.9 L265.8 386.0 L264.5 386.0 L263.2 386.1 L262.0 386.1 L260.8 386.2 L259.7 386.3 L258.7 386.3 L257.6 386.4 L256.6 386.5 L255.7 386.6 L254.7 386.7 L253.8 386.9 L252.9 387.0 L252.0 387.2 L251.2 387.3 L250.3 387.5 L248.9 387.8 L247.7 388.2 L246.4 388.6 L245.3 389.0 L244.2 389.5 L243.2 390.0 L242.2 390.5 L241.2 391.1 L240.2 391.8 L239.2 392.6 L238.3 393.6 L237.4 394.6 L236.6 395.6 L235.9 396.6 L235.2 397.5 L234.6 398.3 L234.2 399.0 L233.8 399.4 L237.4 402.2 L237.8 401.6 L238.3 400.9 L238.9 400.1 L239.5 399.2 L240.2 398.3 L240.9 397.5 L241.6 396.7 L242.3 396.0 L243.0 395.4 L243.7 394.9 L244.5 394.4 L245.3 394.0 L246.1 393.6 L247.0 393.2 L247.9 392.8 L248.9 392.5 L250.1 392.2 L251.3 391.9 L252.1 391.7 L252.8 391.6 L253.6 391.4 L254.5 391.3 L255.3 391.2 L256.2 391.1 L257.1 391.0 L258.0 390.9 L259.0 390.8 L260.0 390.7 L261.1 390.7 L262.2 390.6 L263.4 390.6 L264.7 390.5 L266.0 390.4 L266.8 390.4 L267.6 390.4 L268.5 390.4 L269.4 390.4 L270.4 390.3 L271.3 390.3 L272.3 390.3 L273.3 390.3 L274.3 390.3 L275.3 390.3 L276.4 390.3 L277.4 390.3 L278.5 390.3 L279.6 390.3 L280.6 390.3 L281.7 390.3 L282.8 390.3 L283.9 390.3 L285.0 390.4 L286.0 390.4 L287.1 390.4 L288.2 390.4 L289.2 390.4 L290.2 390.4 L291.3 390.4 L292.3 390.5 L293.3 390.5 L294.3 390.5 L295.3 390.5 L296.3 390.6 L297.3 390.6 L298.3 390.6 L299.3 390.6 L300.3 390.7 L301.4 390.7 L302.4 390.7 L303.4 390.8 L304.4 390.8 L305.4 390.8 L306.4 390.9 L307.4 390.9 L308.4 390.9 L309.4 391.0 L310.4 391.0 L311.5 391.0 L312.5 391.1 L313.5 391.1 L314.5 391.2 L315.5 391.2 L316.5 391.2 L317.5 391.3 L318.6 391.3 L319.6 391.4 L320.6 391.4 L321.7 391.4 L322.7 391.5 L323.7 391.5 L324.8 391.6 L325.8 391.6 L326.9 391.7 L327.9 391.7 L328.9 391.7 L330.0 391.8 L331.0 391.8 L332.0 391.9 L333.0 391.9 L334.0 392.0 L335.0 392.0 L336.0 392.1 L337.0 392.2 L338.0 392.2 L338.9 392.3 L339.9 392.4 L340.8 392.5 L341.7 392.5 L342.8 392.6 L343.9 392.8 L345.0 392.9 L346.1 393.0 L347.1 393.1 L348.1 393.2 L349.1 393.3 L350.1 393.4 L351.1 393.5 L352.1 393.7 L353.0 393.8 L354.0 394.0 L354.9 394.1 L355.9 394.3 L356.8 394.4 L357.8 394.6 L358.7 394.8 L359.7 395.0 L360.7 395.2 L361.7 395.5 L362.6 395.7 L363.6 396.0 L364.5 396.2 L365.5 396.5 L366.4 396.8 L367.4 397.1 L368.4 397.4 L369.3 397.7 L370.3 398.0 L371.3 398.3 L372.2 398.6 L373.2 399.0 L374.1 399.3 L375.1 399.7 L376.0 400.0 L376.9 400.4 L377.9 400.8 L378.8 401.2 L379.7 401.5 L380.6 401.9 L381.5 402.3 L382.4 402.8 L383.3 403.2 L384.2 403.7 L385.1 404.2 L386.1 404.7 L387.0 405.2 L387.9 405.7 L388.8 406.3 L389.8 406.8 L390.7 407.4 L391.5 407.9 L392.4 408.5 L393.3 409.0 L394.1 409.6 L395.0 410.1 L395.8 410.6 L396.5 411.2 L397.3 411.7 L398.0 412.2 L398.7 412.7 L399.7 413.3 L400.6 414.0 L401.4 414.6 L402.2 415.2 L402.9 415.8 L403.5 416.3 L404.2 416.9 L404.8 417.5 L405.5 418.1 L406.2 418.8 L406.9 419.5 L407.7 420.2 L408.5 421.0 L409.2 421.6 L409.9 422.3 L410.6 422.9 L411.3 423.6 L412.0 424.4 L412.8 425.1 L413.5 425.9 L414.3 426.6 L415.0 427.4 L415.8 428.2 L416.6 429.0 L417.4 429.8 L418.1 430.5 L418.9 431.3 L419.7 432.1 L420.4 432.9 L421.2 433.6 L421.9 434.4 L422.7 435.2 L423.5 436.0 L424.3 436.8 L425.1 437.6 L425.9 438.4 L426.8 439.2 L427.6 440.1 L428.4 440.9 L429.2 441.7 L429.9 442.4 L430.7 443.2 L431.4 443.9 L432.0 444.5 L432.7 445.2 L433.3 445.7 L433.8 446.3 L435.0 447.4 L435.9 448.1 L436.5 448.6 L436.9 448.9 L437.5 449.4 L438.4 450.3 L438.9 450.8 L439.5 451.4 L440.1 452.0 L440.8 452.7 L441.5 453.5 L442.3 454.2 L443.0 455.0 L443.8 455.9 L444.6 456.7 L445.4 457.5 L446.2 458.3 L447.1 459.0 L447.9 459.7 L448.6 460.4 L449.5 461.1 L450.4 461.8 L451.3 462.4 L452.2 463.0 L453.1 463.6 L454.0 464.2 L454.9 464.7 L455.8 465.3 L456.7 465.7 L457.6 466.2 L458.4 466.7 L459.3 467.1 L460.4 467.6 L461.5 468.0 L462.6 468.4 L463.6 468.8 L464.7 469.1 L465.8 469.4 L466.9 469.7 L467.9 469.9 L469.0 470.1 L470.1 470.3 L471.1 470.4 L472.2 470.5 L473.3 470.7 L474.4 470.7 L475.5 470.8 L476.6 470.8 L477.7 470.7 L478.8 470.6 L479.9 470.5 L481.0 470.2 L482.2 469.9 L483.4 469.5 L484.5 469.1 L485.6 468.6 L486.7 468.0 L487.7 467.4 L488.7 466.8 L489.7 466.1 L490.6 465.4 L491.5 464.7 L492.3 463.9 L493.1 463.1 L493.9 462.3 L494.6 461.5 L495.3 460.6 L496.0 459.6 L496.7 458.7 L497.5 457.6 L498.0 456.8 L498.6 456.0 L499.1 455.1 L499.7 454.2 L500.2 453.3 L500.8 452.4 L501.3 451.4 L501.9 450.5 L502.4 449.5 L503.0 448.5 L503.5 447.6 L504.1 446.6 L504.6 445.6 L505.1 444.8 L505.6 443.9 L506.1 443.0 L506.6 442.1 L507.1 441.2 L507.6 440.3 L508.1 439.4 L508.6 438.5 L509.0 437.6 L509.5 436.7 L510.0 435.8 L510.5 434.9 L511.0 434.1 L511.4 433.2 L511.8 432.4 L512.4 431.4 L512.9 430.4 L513.3 429.5 L513.8 428.5 L514.3 427.6 L514.7 426.7 L515.2 425.8 L515.6 424.9 L516.1 424.0 L516.5 423.0 L517.0 422.0 L517.5 421.0 L517.9 420.1 L518.3 419.2 L518.7 418.3 L519.1 417.4 L519.5 416.5 L519.9 415.5 L520.3 414.6 L520.7 413.6 L521.1 412.7 L521.5 411.7 L521.9 410.7 L522.3 409.7 L522.7 408.8 L523.1 407.8 L523.4 406.8 L523.8 405.8 L524.2 404.9 L524.5 403.9 L524.9 402.9 L525.2 401.9 L525.6 400.9 L525.9 399.9 L526.3 398.9 L526.6 397.9 L526.9 396.9 L527.3 395.9 L527.6 394.9 L527.9 393.9 L528.3 393.0 L528.6 392.0 L528.9 391.0 L529.3 390.0 L529.6 389.0 L529.9 388.0 L530.3 387.0 L530.6 386.1 L530.9 385.1 L531.2 384.1 L531.5 383.2 L531.9 382.2 L532.2 381.3 L532.5 380.4 L532.8 379.5 L533.2 378.6 L533.5 377.6 L533.9 376.5 L534.3 375.5 L534.7 374.5 L535.1 373.4 L535.5 372.4 L535.9 371.5 L536.3 370.5 L536.7 369.6 L537.1 368.7 L537.5 367.8 L537.9 367.0 L538.4 365.9 L538.9 364.9 L539.4 364.0 L539.8 363.1 L540.3 362.2 L540.8 361.3 L541.3 360.4 L541.8 359.6 L542.4 358.7 L542.9 357.8 L543.5 356.9 L544.1 356.0 L544.6 355.1 L545.2 354.2 L545.8 353.3 L546.4 352.5 L546.9 351.7 L547.5 351.0 L548.2 350.2 L548.8 349.5 L549.4 348.9 L550.1 348.2 L550.8 347.6 L551.5 346.9 L552.3 346.2 L553.1 345.6 L553.8 344.9 L554.7 344.2 L555.5 343.5 L556.3 342.9 L557.2 342.2 L558.1 341.5 L558.9 340.8 L559.8 340.1 L560.6 339.4 L561.4 338.8 L562.2 338.1 L563.0 337.5 L563.9 336.8 L564.7 336.2 L565.6 335.6 L566.4 335.0 L567.3 334.5 L568.2 333.9 L569.1 333.4 L570.0 332.8 L571.0 332.3 L572.0 331.7 L572.9 331.1 L573.9 330.6 L574.8 330.0 L575.7 329.4 L576.6 328.9 L577.5 328.3 L578.4 327.8 L579.3 327.3 L580.3 326.7 L581.2 326.2 L582.2 325.6 L583.1 325.2 L583.9 324.7 L584.8 324.2 L585.7 323.7 L586.7 323.3 L587.6 322.8 L588.6 322.3 L589.5 321.8 L590.4 321.4 L591.4 320.9 L592.3 320.5 L593.2 320.0 L594.1 319.6 L595.1 319.1 L596.0 318.7 L596.9 318.3 L597.8 317.9 L598.7 317.4 L599.6 317.0 L600.5 316.6 L601.4 316.2 L602.3 315.8 L603.3 315.4 L604.3 314.9 L605.3 314.5 L606.3 314.1 L607.3 313.7 L608.3 313.3 L609.3 312.9 L610.3 312.5 L611.3 312.1 L612.2 311.8 L613.2 311.5 L614.1 311.2 L615.1 310.9 L616.0 310.6 L616.9 310.4 L617.9 310.1 L618.9 309.9 L619.9 309.6 L621.0 309.3 L622.2 309.0 L623.1 308.8 L624.1 308.5 L625.1 308.3 L626.2 308.0 L627.3 307.7 L628.4 307.5 L629.6 307.2 L630.7 306.9 L631.7 306.7 L632.8 306.4 L633.8 306.2 L634.8 306.0 L635.7 305.7 L636.9 305.4 L638.0 305.1 L638.9 304.9 L639.8 304.7 L640.6 304.4 L641.6 304.2 L642.7 303.9 L644.0 303.6 L644.8 303.5 L645.7 303.3 L646.6 303.1 L647.6 302.9 L648.5 302.6 L649.6 302.4 L650.6 302.2 L651.7 302.0 L652.8 301.8 L653.8 301.5 L654.9 301.3 L656.0 301.1 L657.0 300.9 L658.1 300.7 L659.1 300.6 L660.1 300.4 L661.1 300.3 L662.1 300.1 L663.1 300.0 L664.1 299.8 L665.2 299.7 L666.2 299.6 L667.2 299.4 L668.2 299.3 L669.2 299.2 L670.2 299.1 L671.2 298.9 L672.2 298.8 L673.2 298.7 L674.2 298.6 L675.3 298.4 L676.3 298.3 L677.4 298.2 L678.4 298.1 L679.5 298.0 L680.5 297.9 L681.5 297.8 L682.6 297.6 L683.6 297.5 L684.6 297.4 L685.7 297.2 L686.8 297.1 L687.8 296.9 L688.9 296.7 L690.0 296.4 L691.1 296.2 L692.2 296.0 L693.3 295.7 L694.4 295.4 L695.5 295.2 L696.5 294.9 L697.6 294.6 L698.7 294.3 L699.7 294.0 L700.7 293.7 L701.6 293.4 L702.7 293.0 L703.7 292.7 L704.7 292.4 L705.6 292.0 L706.6 291.6 L707.5 291.3 L708.4 290.8 L709.3 290.4 L710.3 289.9 L711.2 289.3 L712.2 288.7 L713.1 288.2 L714.0 287.6 L714.8 286.9 L715.7 286.3 L716.5 285.6 L717.3 284.9 L718.2 284.2 L719.0 283.5 L719.8 282.7 L720.6 282.0 L721.5 281.3 L722.3 280.6 L723.1 280.0 L723.9 279.3 L724.7 278.7 L725.5 278.1 L726.3 277.4 L727.2 276.8 L728.0 276.2 L728.9 275.5 L729.7 274.8 L730.6 274.1 L731.5 273.4 L732.3 272.6 L733.1 271.8 L734.0 271.0 L734.7 270.2 L735.3 269.5 L736.0 268.7 L736.6 267.9 L737.3 267.1 L737.9 266.3 L738.5 265.5 L739.1 264.6 L739.7 263.8 L740.3 263.0 L740.9 262.1 L741.5 261.3 L742.1 260.4 L742.7 259.6 L743.3 258.7 L743.8 257.9 L744.4 257.1 L745.0 256.3 L745.5 255.5 L746.1 254.6 L746.6 253.8 L747.2 252.9 L747.7 252.1 L748.3 251.2 L748.8 250.4 L749.4 249.5 L749.9 248.6 L750.4 247.8 L751.0 246.9 L751.5 246.0 L752.1 245.1 L752.6 244.2 L753.1 243.4 L753.6 242.5 L754.1 241.6 L754.6 240.7 L755.2 239.8 L755.7 238.9 L756.2 238.0 L756.7 237.1 L757.2 236.2 L757.7 235.2 L758.2 234.3 L758.7 233.4 L759.2 232.5 L759.7 231.6 L760.2 230.7 L760.6 229.8 L761.1 228.8 L761.6 227.9 L762.1 226.9 L762.6 225.9 L763.1 225.0 L763.6 224.0 L764.0 223.1 L764.5 222.1 L765.0 221.2 L765.4 220.2 L765.9 219.3 L766.3 218.3 L766.8 217.4 L767.3 216.4 L767.7 215.5 L768.2 214.5 L768.6 213.6 L769.0 212.7 L769.5 211.8 L769.9 210.9 L770.3 210.0 L770.7 209.1 L771.2 208.2 L771.6 207.3 L772.0 206.4 L772.5 205.5 L772.9 204.6 L773.3 203.7 L773.7 202.7 L774.2 201.8 L774.6 200.8 L775.0 199.8 L775.5 198.8 L775.8 198.0 L776.2 197.1 L776.6 196.2 L777.0 195.3 L777.4 194.3 L777.7 193.4 L778.1 192.4 L778.5 191.5 L778.9 190.5 L779.3 189.6 L779.7 188.6 L780.1 187.6 L780.5 186.7 L780.8 185.7 L781.2 184.7 L781.6 183.8 L781.9 182.9 L782.3 181.9 L782.6 181.0 L782.9 180.1 L783.3 179.1 L783.7 178.0 L784.0 177.0 L784.4 175.9 L784.7 174.9 L785.1 173.9 L785.4 172.9 L785.7 171.8 L786.0 170.8 L786.3 169.9 L786.7 168.9 L787.0 167.9 L787.2 166.9 L787.5 165.9 L787.8 165.0 L788.1 164.0 L788.4 163.1 L788.7 162.0 L789.1 160.9 L789.4 159.8 L789.7 158.7 L790.1 157.6 L790.4 156.5 L790.7 155.4 L791.0 154.3 L791.3 153.2 L791.6 152.2 L791.9 151.2 L792.1 150.3 L792.3 149.4 L792.5 148.6 L792.7 147.7 L793.0 145.7 L793.0 143.9 L792.9 142.6 L792.8 141.7 L792.7 141.2Z"/><circle cx="790.3" cy="141.4" r="2.45"/><circle cx="235.6" cy="400.8" r="2.25"/>
<path d="M216.5 521.2 L216.5 520.7 L216.6 520.1 L216.7 519.5 L216.8 518.8 L216.9 518.1 L217.0 517.3 L217.1 516.5 L217.2 515.7 L217.3 514.8 L217.5 513.8 L217.6 512.9 L217.7 511.9 L217.8 510.9 L218.0 509.9 L218.1 508.8 L218.3 507.7 L218.4 506.6 L218.6 505.5 L218.7 504.4 L218.9 503.3 L219.0 502.1 L219.2 501.0 L219.3 499.8 L219.5 498.6 L219.7 497.5 L219.8 496.3 L220.0 495.2 L220.2 494.0 L220.3 492.9 L220.5 491.8 L220.6 490.7 L220.8 489.6 L221.0 488.5 L221.1 487.5 L221.3 486.5 L221.4 485.5 L221.6 484.5 L221.8 483.5 L221.9 482.4 L222.1 481.4 L222.3 480.4 L222.5 479.3 L222.6 478.3 L222.8 477.2 L223.0 476.1 L223.2 475.1 L223.4 474.0 L223.6 472.9 L223.8 471.9 L224.0 470.8 L224.2 469.7 L224.4 468.7 L224.5 467.6 L224.7 466.6 L224.9 465.5 L225.1 464.5 L225.3 463.5 L225.5 462.4 L225.7 461.4 L225.9 460.4 L226.1 459.5 L226.2 458.5 L226.4 457.5 L226.6 456.6 L226.8 455.7 L226.9 454.8 L227.1 453.9 L227.3 453.0 L227.4 452.2 L227.6 451.4 L227.7 450.6 L228.0 449.2 L228.2 448.0 L228.4 446.8 L228.6 445.7 L228.8 444.6 L229.0 443.6 L229.2 442.6 L229.4 441.6 L229.5 440.7 L229.7 439.8 L229.9 438.9 L230.0 438.1 L230.2 437.2 L230.4 436.3 L230.6 435.4 L230.7 434.5 L230.9 433.6 L231.1 432.6 L231.3 431.6 L231.5 430.6 L231.7 429.6 L231.9 428.6 L232.1 427.6 L232.3 426.5 L232.5 425.4 L232.7 424.3 L232.9 423.2 L233.1 422.1 L233.3 421.0 L233.5 419.9 L233.7 418.8 L233.9 417.7 L234.2 416.6 L234.4 415.6 L234.6 414.5 L234.8 413.5 L235.0 412.5 L235.2 411.6 L235.3 410.7 L235.5 409.8 L235.7 408.9 L235.9 408.2 L236.2 406.7 L236.5 405.3 L236.8 404.0 L237.1 402.8 L237.4 401.6 L237.6 400.6 L237.9 399.7 L238.1 398.8 L238.3 398.0 L238.5 397.3 L238.6 396.8 L232.6 395.2 L232.5 395.8 L232.3 396.5 L232.1 397.2 L231.8 398.1 L231.6 399.1 L231.3 400.1 L231.0 401.3 L230.7 402.5 L230.4 403.9 L230.1 405.3 L229.7 406.8 L229.6 407.7 L229.4 408.5 L229.2 409.4 L229.0 410.3 L228.8 411.3 L228.6 412.3 L228.4 413.3 L228.2 414.4 L228.0 415.4 L227.8 416.5 L227.6 417.6 L227.4 418.7 L227.2 419.8 L226.9 420.9 L226.7 422.1 L226.5 423.2 L226.3 424.2 L226.1 425.3 L225.9 426.4 L225.7 427.4 L225.5 428.4 L225.3 429.4 L225.1 430.4 L224.9 431.4 L224.7 432.4 L224.6 433.3 L224.4 434.2 L224.2 435.1 L224.0 436.0 L223.9 436.9 L223.7 437.7 L223.5 438.6 L223.4 439.5 L223.2 440.5 L223.0 441.4 L222.8 442.4 L222.6 443.4 L222.4 444.5 L222.2 445.6 L222.0 446.8 L221.7 448.1 L221.5 449.4 L221.3 450.2 L221.2 451.0 L221.0 451.9 L220.9 452.7 L220.7 453.6 L220.5 454.5 L220.4 455.4 L220.2 456.4 L220.0 457.3 L219.8 458.3 L219.6 459.3 L219.5 460.3 L219.3 461.3 L219.1 462.3 L218.9 463.3 L218.7 464.4 L218.5 465.4 L218.3 466.5 L218.1 467.5 L217.9 468.6 L217.7 469.7 L217.5 470.7 L217.3 471.8 L217.1 472.9 L217.0 474.0 L216.8 475.0 L216.6 476.1 L216.4 477.2 L216.2 478.2 L216.0 479.3 L215.8 480.4 L215.7 481.4 L215.5 482.4 L215.3 483.5 L215.2 484.5 L215.0 485.5 L214.8 486.5 L214.7 487.6 L214.5 488.7 L214.3 489.8 L214.2 490.9 L214.0 492.0 L213.9 493.1 L213.7 494.3 L213.5 495.4 L213.4 496.6 L213.2 497.8 L213.0 498.9 L212.9 500.1 L212.7 501.2 L212.6 502.4 L212.4 503.5 L212.2 504.7 L212.1 505.8 L211.9 506.9 L211.8 508.0 L211.7 509.0 L211.5 510.1 L211.4 511.1 L211.3 512.1 L211.1 513.0 L211.0 513.9 L210.9 514.8 L210.8 515.7 L210.7 516.5 L210.6 517.2 L210.5 518.0 L210.4 518.6 L210.3 519.3 L210.2 519.8 L210.1 520.4Z"/><circle cx="235.6" cy="396.0" r="3.10"/>
<path d="M660.3 294.4 L660.8 298" stroke="#231f20" stroke-width="2.4" stroke-linecap="round"/>
</g>

<!-- arrows -->
<g fill="none" stroke="#231f20" stroke-linecap="butt" stroke-linejoin="miter">
<path d="M345.7 427.0 L290.6 416.0 M312.8 408.5 L290.6 416.0 L307.7 430.8" stroke-width="2.6"/><path d="M638.0 343.9 L571.5 360.9 M587.6 345.2 L571.5 360.9 L593.7 367.3" stroke-width="2.6"/><path d="M742.6 353.6 L688.6 311.4 M711.8 315.2 L688.6 311.4 L697.0 333.6" stroke-width="2.8"/><path d="M417.4 288.3 L532.3 272.2 M511.4 263.7 L532.3 272.2 L515.2 286.1" stroke-width="3.0"/>
<path d="M473.8 337 L476.6 465" stroke-width="3.9" stroke-linecap="butt"/><path d="M462.4 356.7 L473.3 336 L484.9 356" stroke-width="2.6"/><path d="M464.5 447.7 L476.4 464.6 L488.8 446.9" stroke-width="2.6"/>
</g>

</g>
<!-- watermark -->
<g fill="#ffffff" stroke="#9a9a9a" stroke-width="0.9">
<path d="M726.8 627.8c-7.2 0-13 5-13 11.2 0 3.5 1.9 6.6 4.8 8.7l-1.4 4.3 4.9-2.6c1.5.5 3.1.8 4.7.8 7.2 0 13-5 13-11.2s-5.800-11.200-13-11.200z"/>
<path d="M738.5 637.700c-6.300 0-11.400 4.500-11.400 10.100s5.100 10.100 11.400 10.100c1.400 0 2.800-.2 4.100-.7l4.300 2.400-1.200-3.900c2.600-1.900 4.200-4.700 4.200-7.900 0-5.600-5.100-10.100-11.400-10.100z"/>
<circle cx="722.1" cy="635.4" r="1.6"/><circle cx="731.9" cy="635.4" r="1.6"/>
<circle cx="734.7" cy="644" r="1.4"/><circle cx="742.600" cy="644" r="1.400"/>
</g>
<filter id="wmsh" x="-5%" y="-20%" width="110%" height="140%"><feDropShadow dx="1.2" dy="1.2" stdDeviation="0.25" flood-color="#7d7d7d" flood-opacity="1"/></filter>
<text class="wm" x="756.6" y="651.3" style="fill:#ffffff" filter="url(#wmsh)">中国工程院院刊</text>
</svg>
</body>
</html>
